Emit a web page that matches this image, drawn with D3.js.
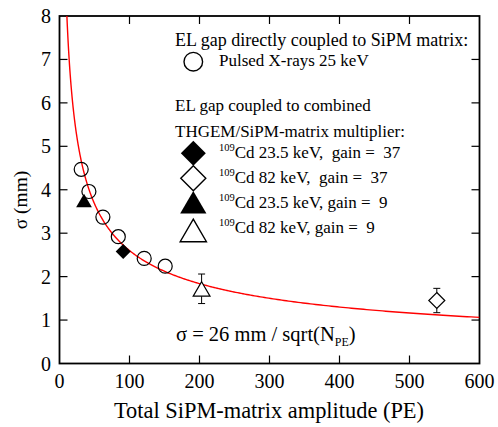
<!DOCTYPE html>
<html><head><meta charset="utf-8">
<script src="https://cdn.jsdelivr.net/npm/d3@7"></script>
<style>body{margin:0;background:#fff;}</style></head>
<body><svg id="c" width="498" height="427"></svg>
<script>
// data
const xTicks = [0,100,200,300,400,500,600];
const yTicks = [0,1,2,3,4,5,6,7,8];
const pulsedX = [31,42,62,84,121,151];
const pulsedY = [4.47,3.96,3.37,2.92,2.42,2.24];
const cd23g37X = [91];   const cd23g37Y = [2.58];
const cd82g37X = [539];  const cd82g37Y = [1.45];  const cd82g37Err = [0.28];
const cd23g9X = [35];    const cd23g9Y = [3.76];
const cd82g9X = [203];   const cd82g9Y = [1.72];   const cd82g9Err = [0.34];
const fitA = 26; // sigma = 26/sqrt(N)

const FF = "Liberation Serif";
const svg = d3.select("#c");
const L=59.5,R=479.5,T=16,B=363.5;
const x = d3.scaleLinear().domain([0,600]).range([L,R]);
const y = d3.scaleLinear().domain([0,8]).range([B,T]);
function txt(){ return svg.append("text").attr("font-family",FF).attr("fill","#000"); }

// ticks (inward)
const g = svg.append("g").attr("stroke","#000").attr("stroke-width",1.2);
const tl=8;
xTicks.slice(1,-1).forEach(v=>{
  g.append("line").attr("x1",x(v)).attr("x2",x(v)).attr("y1",B).attr("y2",B-tl);
  g.append("line").attr("x1",x(v)).attr("x2",x(v)).attr("y1",T).attr("y2",T+tl);
});
yTicks.slice(1,-1).forEach(v=>{
  g.append("line").attr("x1",L).attr("x2",L+tl).attr("y1",y(v)).attr("y2",y(v));
  g.append("line").attr("x1",R).attr("x2",R-tl).attr("y1",y(v)).attr("y2",y(v));
});
svg.append("rect").attr("x",L).attr("y",T).attr("width",R-L).attr("height",B-T)
  .attr("fill","none").attr("stroke","#000").attr("stroke-width",1.8);

// tick labels
xTicks.forEach(d=>txt().attr("x",x(d)).attr("y",388).attr("text-anchor","middle").attr("font-size",20).text(d));
yTicks.forEach(d=>txt().attr("x",51).attr("y",y(d)+7).attr("text-anchor","end").attr("font-size",20).text(d));

// axis titles
txt().attr("x",269).attr("y",418).attr("text-anchor","middle").attr("font-size",22.4)
  .text("Total SiPM-matrix amplitude (PE)");
txt().attr("transform",`translate(26.5,200) rotate(-90)`).attr("text-anchor","middle")
  .attr("font-size",19.5).text("σ (mm)");

// fit curve
svg.append("clipPath").attr("id","cp").append("rect").attr("x",L).attr("y",T).attr("width",R-L).attr("height",B-T);
const x0 = Math.pow(fitA/8,2);
const xs = d3.range(0,401).map(i=> x0 * Math.pow(600/x0, i/400));
svg.append("path").datum(xs).attr("clip-path","url(#cp)")
  .attr("d",d3.line().x(d=>x(d)).y(d=>y(fitA/Math.sqrt(d))))
  .attr("fill","none").attr("stroke","#ff0000").attr("stroke-width",1.4);

// symbols
function diamond(s){return `M0,${-s}L${s},0L0,${s}L${-s},0Z`;}
function triangle(s){return `M0,${-s}L${s*1.05},${s*0.8}L${-s*1.05},${s*0.8}Z`;}
function errbar(px,py,e){
  const gg=svg.append("g").attr("stroke","#000").attr("stroke-width",1);
  gg.append("line").attr("x1",x(px)).attr("x2",x(px)).attr("y1",y(py-e)).attr("y2",y(py+e));
  [py-e,py+e].forEach(v=>gg.append("line").attr("x1",x(px)-3.5).attr("x2",x(px)+3.5).attr("y1",y(v)).attr("y2",y(v)));
}
cd82g37X.forEach((v,i)=>errbar(v,cd82g37Y[i],cd82g37Err[i]));
cd82g9X.forEach((v,i)=>errbar(v,cd82g9Y[i],cd82g9Err[i]));

pulsedX.forEach((v,i)=>svg.append("circle").attr("cx",x(v)).attr("cy",y(pulsedY[i])).attr("r",7)
  .attr("fill","none").attr("stroke","#000").attr("stroke-width",1.2));
cd23g37X.forEach((v,i)=>svg.append("path").attr("transform",`translate(${x(v)},${y(cd23g37Y[i])})`)
  .attr("d",diamond(7.5)).attr("fill","#000"));
cd82g37X.forEach((v,i)=>svg.append("path").attr("transform",`translate(${x(v)},${y(cd82g37Y[i])})`)
  .attr("d",diamond(8)).attr("fill","#fff").attr("stroke","#000").attr("stroke-width",1.2));
cd23g9X.forEach((v,i)=>svg.append("path").attr("transform",`translate(${x(v)},${y(cd23g9Y[i])+1})`)
  .attr("d",triangle(7.5)).attr("fill","#000"));
cd82g9X.forEach((v,i)=>svg.append("path").attr("transform",`translate(${x(v)},${y(cd82g9Y[i])+1})`)
  .attr("d",triangle(8)).attr("fill","#fff").attr("stroke","#000").attr("stroke-width",1.2));

// legend
const fs=17;
txt().attr("x",175).attr("y",46).attr("font-size",18).text("EL gap directly coupled to SiPM matrix:");
svg.append("circle").attr("cx",193.3).attr("cy",61.7).attr("r",9.3).attr("fill","none").attr("stroke","#000").attr("stroke-width",1.4);
txt().attr("x",219).attr("y",66).attr("font-size",fs).text("Pulsed X-rays 25 keV");
txt().attr("x",175).attr("y",110.7).attr("font-size",fs).text("EL gap coupled to combined");
txt().attr("x",175).attr("y",136.7).attr("font-size",fs).text("THGEM/SiPM-matrix multiplier:");
const legItems=[
  {cy:153.3, ty:158.3, sym:"d", fill:"#000", label:"Cd 23.5 keV,  gain =  37"},
  {cy:178.3, ty:183.3, sym:"d", fill:"#fff", label:"Cd 82 keV,  gain =  37"},
  {cy:203.5, ty:208.3, sym:"t", fill:"#000", label:"Cd 23.5 keV, gain =  9"},
  {cy:231.7, ty:233.3, sym:"t", fill:"#fff", label:"Cd 82 keV, gain =  9"}
];
legItems.forEach(it=>{
  svg.append("path").attr("transform",`translate(193.3,${it.cy})`)
    .attr("d", it.sym==="d"?diamond(12.5):triangle(12.5))
    .attr("fill",it.fill).attr("stroke","#000").attr("stroke-width",it.fill==="#000"?0:1.4);
  const t=txt().attr("x",219).attr("y",it.ty).attr("font-size",fs).attr("xml:space","preserve");
  t.append("tspan").attr("font-size",10.5).attr("dy",-7).text("109");
  t.append("tspan").attr("dy",7).text(it.label);
});

// formula
const f=txt().attr("x",176).attr("y",341).attr("font-size",20.5).attr("xml:space","preserve");
f.append("tspan").text("σ = 26 mm / sqrt(N");
f.append("tspan").attr("font-size",12).attr("dy",5).text("PE");
f.append("tspan").attr("dy",-5).text(")");
</script></body></html>
